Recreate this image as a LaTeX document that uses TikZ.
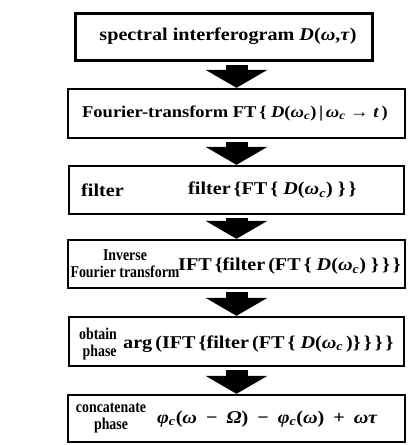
\documentclass[tikz,border=0pt]{standalone}
\usepackage{fontspec}
\setmainfont{Liberation Serif}[FakeStretch=1.12]
\newfontfamily\lblfont{Liberation Serif}[FakeStretch=0.84]
\usetikzlibrary{arrows.meta}

% variables in bold italic, omega with subscript c
\newcommand{\mv}[1]{\textit{#1}}
\newcommand{\oc}{\mv{ω}\textsubscript{\mv{c}}}

\tikzset{
	box/.style={draw, line width=2.4pt, inner sep=0pt},
	txt/.style={font=\fontsize{18}{19}\selectfont\bfseries, inner sep=0pt},
	lbl/.style={font=\fontsize{16.5}{17}\selectfont\lblfont\bfseries, inner sep=0pt},
	bigarrow/.style={line width=22pt, -{Triangle[length=18pt, width=62pt, line width=0pt]}, shorten <=3pt},
}

\begin{document}
\begin{tikzpicture}[x=1pt, y=-1pt]
				\useasboundingbox (0,0) rectangle (415,445);
				
				% boxes
				\node[box, line width=3pt, minimum width=297, minimum height=47] (Spec) at (223.5,36.5) {};
				\node[box, minimum width=337, minimum height=49] (FT) at (236.5,113.5) {};
				\node[box, minimum width=335, minimum height=48] (Filt) at (236.5,190) {};
				\node[box, minimum width=337, minimum height=48] (IFT) at (236.5,264) {};
				\node[box, minimum width=335, minimum height=49] (Phase) at (236.5,341.5) {};
				\node[box, minimum width=337, minimum height=47] (Concat) at (236.5,418.5) {};
				
				% arrows between the steps
				\draw[bigarrow] (FT.north |- Spec.south) -- (FT.north);
				\draw[bigarrow] (FT.south) -- (Filt.north);
				\draw[bigarrow] (Filt.south) -- (IFT.north);
				\draw[bigarrow] (IFT.south) -- (Phase.north);
				\draw[bigarrow] (Phase.south) -- (Concat.north);
				
				% step names and formulas
				\node[txt] (SpecTxt) at (228,36) {spectral interferogram \mv{D}(\mv{ω},\mv{τ})};
				\node[txt, font=\fontsize{16.5}{18}\selectfont\bfseries] (FTTxt) at (235,113) {Fourier-transform FT\,\{ \mv{D}(\oc)\,|\,\oc\ → \mv{t}\,)};
				\node[txt, anchor=west] (FiltLbl) at (81,190) {filter};
				\node[txt, anchor=west] (FiltTxt) at (188,190) {filter\,\{FT\,\{\ \mv{D}(\oc)\ \}\,\}};
				\node[lbl, align=center] (IFTLbl) at (125,264) {Inverse\\Fourier transform};
				\node[txt, anchor=west] (IFTTxt) at (178,266) {IFT\,\{filter\,(FT\,\{ \mv{D}(\oc) \}\,\}\,\}};
				\node[lbl, align=left, anchor=west] (PhaseLbl) at (79,344) {obtain\\\ phase};
				\node[txt, anchor=west] (PhaseTxt) at (123,344) {arg\,(IFT\,\{filter\,(FT\,\{ \mv{D}(\oc\,)\}\,\}\,\}\,\}};
				\node[lbl, align=center] (ConcatLbl) at (111,418) {concatenate\\phase};
				\node[txt, anchor=west] (ConcatTxt) at (157,419) {\mv{φ}\textsubscript{\mv{c}}(\mv{ω}\enspace−\enspace\mv{Ω})\enspace−\enspace\mv{φ}\textsubscript{\mv{c}}(\mv{ω})\enspace+\enspace\mv{ωτ}};
				
			\end{tikzpicture}
\end{document}
